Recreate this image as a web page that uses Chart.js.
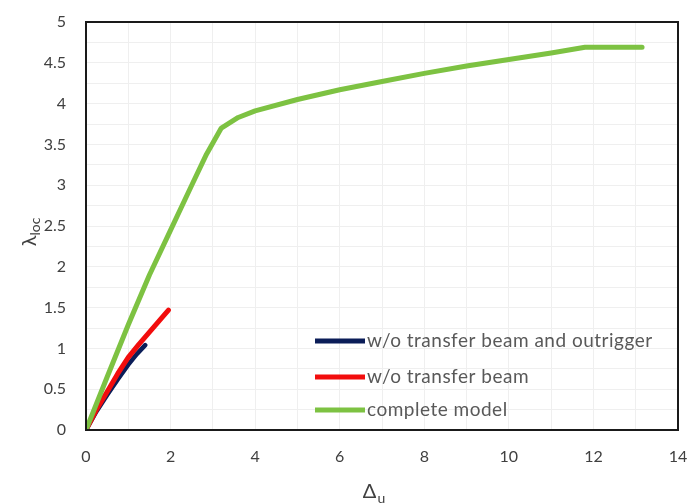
<!DOCTYPE html>
<html>
<head>
<meta charset="utf-8">
<script src="https://cdn.jsdelivr.net/npm/chart.js@4.4.1/dist/chart.umd.min.js"></script>
<style>
  html, body { margin: 0; padding: 0; background: #ffffff; }
  #wrap { width: 690px; height: 503px; }
</style>
</head>
<body>
<div id="wrap"><canvas id="c" width="690" height="503"></canvas></div>
<script>
// Series labels
const seriesNames = ["w/o transfer beam and outrigger", "w/o transfer beam", "complete model"];

// Normalised displacement (Δu) and load factor (λloc) per model
const deltaNoBeamNoOutrigger = [0, 0.25, 0.5, 0.75, 1.0, 1.2, 1.4];
const lambdaNoBeamNoOutrigger = [0, 0.23, 0.43, 0.62, 0.80, 0.93, 1.04];

const deltaNoBeam = [0, 0.25, 0.5, 0.75, 1.0, 1.25, 1.5, 1.75, 1.95];
const lambdaNoBeam = [0, 0.25, 0.47, 0.69, 0.89, 1.05, 1.20, 1.35, 1.47];

const deltaComplete = [0, 0.5, 1.0, 1.5, 2.0, 2.5, 2.85, 3.2, 3.6, 4.0, 5.0, 6.0, 7.0, 8.0, 9.0, 10.0, 11.0, 11.8, 13.15];
const lambdaComplete = [0, 0.65, 1.29, 1.90, 2.45, 3.00, 3.38, 3.70, 3.83, 3.91, 4.05, 4.17, 4.27, 4.37, 4.46, 4.54, 4.62, 4.69, 4.69];

// Axis ticks
const xTickLabels = [0, 2, 4, 6, 8, 10, 12, 14];
const yTickLabels = [0, 0.5, 1, 1.5, 2, 2.5, 3, 3.5, 4, 4.5, 5];

const colors = ["#0b1d58", "#f20d0d", "#7dc242"];
const tickColor = "#404040";
const textColor = "#595959";
const fontFamily = "Lato, 'Open Sans', sans-serif";

function pts(xs, ys) { return xs.map((x, i) => ({ x: x, y: ys[i] })); }

// Frame around the plot area
const framePlugin = {
  id: "frame",
  afterDatasetsDraw(chart) {
    const { ctx, chartArea: a } = chart;
    ctx.save();
    ctx.strokeStyle = "#1a1a1a";
    ctx.lineWidth = 2;
    ctx.strokeRect(a.left, a.top, a.right - a.left, a.bottom - a.top);
    ctx.restore();
  }
};

// Legend drawn inside the plot area, bottom right
const insideLegend = {
  id: "insideLegend",
  afterDatasetsDraw(chart) {
    const { ctx } = chart;
    const x0 = 315, lineLen = 50, rows = [341, 377, 410];
    ctx.save();
    ctx.font = "19px " + fontFamily;
    if ("letterSpacing" in ctx) ctx.letterSpacing = "0.5px";
    ctx.textBaseline = "middle";
    ctx.lineCap = "butt";
    seriesNames.forEach((name, i) => {
      ctx.strokeStyle = colors[i];
      ctx.lineWidth = 5;
      ctx.beginPath();
      ctx.moveTo(x0, rows[i]);
      ctx.lineTo(x0 + lineLen, rows[i]);
      ctx.stroke();
      ctx.fillStyle = textColor;
      ctx.fillText(name, x0 + lineLen + 2, rows[i]);
    });
    ctx.restore();
  }
};

// Axis titles with subscripts
const axisTitles = {
  id: "axisTitles",
  afterDraw(chart) {
    const { ctx } = chart;
    ctx.save();
    ctx.fillStyle = tickColor;
    ctx.textBaseline = "alphabetic";
    const big = "20px " + fontFamily, small = "14px " + fontFamily;
    // x title: Δu
    ctx.font = big;
    const wD = ctx.measureText("Δ").width;
    ctx.font = small;
    const wu = ctx.measureText("u").width;
    const cx = 374 - (wD + wu + 1) / 2;
    const by = 498;
    ctx.font = big;
    ctx.fillText("Δ", cx, by);
    ctx.font = small;
    ctx.fillText("u", cx + wD + 1, by + 5);
    // y title: λloc rotated
    ctx.translate(36, 232);
    ctx.rotate(-Math.PI / 2);
    ctx.font = big;
    const wl = ctx.measureText("λ").width;
    ctx.font = small;
    const wloc = ctx.measureText("loc").width;
    const sx = -(wl + wloc) / 2;
    ctx.font = big;
    ctx.fillText("λ", sx, 0);
    ctx.font = small;
    ctx.fillText("loc", sx + wl, 4);
    ctx.restore();
  }
};

new Chart(document.getElementById("c"), {
  type: "line",
  data: {
    datasets: [
      { label: seriesNames[0], data: pts(deltaNoBeamNoOutrigger, lambdaNoBeamNoOutrigger), borderColor: colors[0], borderWidth: 4.5, order: 2 },
      { label: seriesNames[1], data: pts(deltaNoBeam, lambdaNoBeam), borderColor: colors[1], borderWidth: 5, order: 1 },
      { label: seriesNames[2], data: pts(deltaComplete, lambdaComplete), borderColor: colors[2], borderWidth: 5, order: 0 }
    ]
  },
  options: {
    responsive: false,
    animation: false,
    devicePixelRatio: 1,
    layout: { padding: { left: 0, right: 12, top: 22, bottom: 0 } },
    elements: { point: { radius: 0 }, line: { tension: 0, borderCapStyle: "round", borderJoinStyle: "round" } },
    plugins: { legend: { display: false }, tooltip: { enabled: false } },
    scales: {
      x: {
        type: "linear",
        min: xTickLabels[0],
        max: xTickLabels[xTickLabels.length - 1],
        ticks: {
          stepSize: 1,
          autoSkip: false,
          maxRotation: 0,
          padding: 17,
          color: tickColor,
          font: { family: fontFamily, size: 16 },
          callback: (v) => (xTickLabels.includes(v) ? String(v) : "")
        },
        grid: { color: "#efefef", lineWidth: 1, drawTicks: false },
        border: { display: false },
        afterFit(scale) { scale.height = 73; scale.paddingLeft = 0; scale.paddingRight = 0; }
      },
      y: {
        type: "linear",
        min: yTickLabels[0],
        max: yTickLabels[yTickLabels.length - 1],
        ticks: {
          stepSize: 0.25,
          autoSkip: false,
          padding: 20,
          color: tickColor,
          font: { family: fontFamily, size: 16 },
          callback: (v) => (yTickLabels.includes(v) ? String(v) : "")
        },
        grid: { color: "#efefef", lineWidth: 1, drawTicks: false },
        border: { display: false },
        afterFit(scale) { scale.width = 86; scale.paddingTop = 0; scale.paddingBottom = 0; }
      }
    }
  },
  plugins: [framePlugin, insideLegend, axisTitles]
});
</script>
</body>
</html>
